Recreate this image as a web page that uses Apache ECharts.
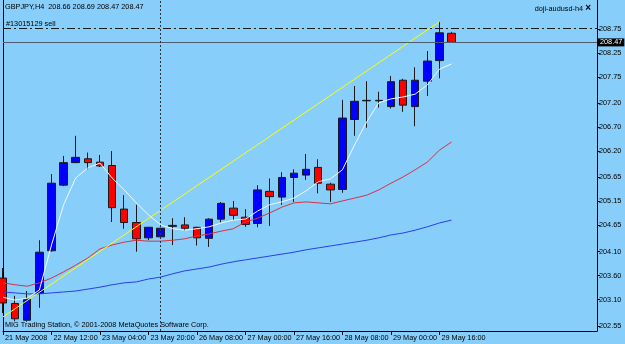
<!DOCTYPE html>
<html>
<head>
<meta charset="utf-8">
<script src="https://cdn.jsdelivr.net/npm/echarts@6/dist/echarts.min.js"></script>
<style>
  html, body { margin: 0; padding: 0; background: #87CEFA; }
  #chart { width: 625px; height: 344px; }
</style>
</head>
<body>
<div id="chart"></div>
<script>
// ---- Data ----
const categories = [
  "21 May 2008", "22 May 00:00", "22 May 04:00", "22 May 08:00", "22 May 12:00", "22 May 16:00",
  "22 May 20:00", "23 May 00:00", "23 May 04:00", "23 May 08:00", "23 May 12:00", "23 May 16:00",
  "23 May 20:00", "25 May 20:00", "26 May 00:00", "26 May 04:00", "26 May 08:00", "26 May 12:00",
  "26 May 16:00", "26 May 20:00", "27 May 00:00", "27 May 04:00", "27 May 08:00", "27 May 12:00",
  "27 May 16:00", "27 May 20:00", "28 May 00:00", "28 May 04:00", "28 May 08:00", "28 May 12:00",
  "28 May 16:00", "28 May 20:00", "29 May 00:00", "29 May 04:00", "29 May 08:00", "29 May 12:00",
  "29 May 16:00", "29 May 20:00",
  // empty future slots (chart shift area)
  "30 May 00:00", "30 May 04:00", "30 May 08:00", "30 May 12:00", "30 May 16:00", "30 May 20:00",
  "2 Jun 00:00", "2 Jun 04:00", "2 Jun 08:00", "2 Jun 12:00", "2 Jun 16:00", "2 Jun 20:00"
];
const lastLabelIndex = 36;
const labelStep = 4;

const openV  = [203.55, 203.02, 202.67, 203.23, 204.12, 205.49, 205.96, 206.04, 205.97, 205.90, 204.99, 204.71, 204.39, 204.41, 204.63, 204.66, 204.61, 204.38, 204.78, 205.01, 204.82, 204.69, 205.36, 205.24, 205.65, 205.70, 205.86, 205.51, 205.40, 206.86, 207.25, 207.25, 207.13, 207.68, 207.13, 207.66, 208.09, 208.66];
const closeV = [203.03, 202.70, 203.11, 204.09, 205.53, 205.96, 206.07, 205.96, 205.89, 205.02, 204.71, 204.37, 204.61, 204.59, 204.65, 204.59, 204.39, 204.78, 205.11, 204.86, 204.67, 205.39, 205.25, 205.65, 205.74, 205.82, 205.53, 205.39, 206.89, 207.24, 207.26, 207.26, 207.65, 207.16, 207.68, 208.08, 208.67, 208.47];
const lowV   = [202.82, 202.65, 202.64, 202.93, 204.10, 205.47, 205.96, 205.82, 205.87, 204.72, 204.58, 204.10, 204.34, 204.40, 204.24, 204.54, 204.23, 204.20, 204.71, 204.76, 204.62, 204.61, 204.64, 205.08, 205.14, 205.60, 205.32, 205.14, 205.33, 206.52, 206.69, 207.11, 207.09, 207.02, 206.72, 207.35, 207.72, 208.47];
const highV  = [203.76, 203.18, 203.28, 204.34, 205.72, 206.10, 206.52, 206.17, 206.12, 206.20, 205.28, 205.08, 204.62, 204.60, 204.80, 204.82, 204.62, 204.80, 205.14, 205.16, 204.99, 205.49, 205.63, 205.76, 205.82, 206.14, 206.03, 205.54, 207.27, 207.56, 207.66, 207.44, 207.77, 207.71, 207.95, 208.29, 208.90, 208.69];

const maFast = [203.15, 203.09, 203.13, 203.30, 204.24, 205.08, 205.64, 205.85, 205.95, 205.64, 205.39, 205.12, 204.87, 204.66, 204.58, 204.55, 204.58, 204.62, 204.70, 204.76, 204.78, 204.95, 205.08, 205.14, 205.22, 205.37, 205.56, 205.62, 205.81, 206.33, 206.81, 207.21, 207.29, 207.33, 207.39, 207.58, 207.91, 208.02];
const maMid  = [203.45, 203.41, 203.38, 203.45, 203.55, 203.68, 203.82, 203.97, 204.16, 204.24, 204.30, 204.34, 204.32, 204.32, 204.34, 204.37, 204.43, 204.47, 204.53, 204.58, 204.72, 204.80, 204.91, 205.03, 205.12, 205.14, 205.12, 205.10, 205.16, 205.22, 205.28, 205.39, 205.53, 205.66, 205.81, 205.97, 206.22, 206.39];
const maSlow = [203.26, 203.24, 203.22, 203.22, 203.24, 203.26, 203.28, 203.32, 203.36, 203.41, 203.45, 203.47, 203.53, 203.57, 203.64, 203.70, 203.74, 203.78, 203.84, 203.89, 203.93, 203.97, 204.01, 204.05, 204.09, 204.14, 204.18, 204.22, 204.26, 204.30, 204.34, 204.39, 204.45, 204.49, 204.55, 204.62, 204.70, 204.76];

const trendIdx = [0, 36];
const trendVal = [202.74, 208.90];

const yTickLabels = [208.75, 208.25, 207.75, 207.20, 206.70, 206.20, 205.65, 205.15, 204.65, 204.10, 203.60, 203.10, 202.55];
const yMin = 202.445, yMax = 209.355;

const bidPrice = 208.47;
const orderPrice = 208.76;
const orderText = "#13015129 sell";
const separatorIndex = 13;

const headerText = "GBPJPY,H4  208.66 208.69 208.47 208.47";
const indicatorText = "doji-audusd-h4";
const footerText = "MIG Trading Station, \u00A9 2001-2008 MetaQuotes Software Corp.";

// ---- Build ----
const FONT = "'Liberation Sans', Arial, sans-serif";
const FS = 7.3;
const candleData = openV.map((o, i) => [o, closeV[i], lowV[i], highV[i]]);
const trendData = trendIdx.map((k, j) => [categories[k], trendVal[j]]);
const showLabel = (i) => i % labelStep === 0 && i <= lastLabelIndex;

const chart = echarts.init(document.getElementById('chart'), null, { renderer: 'canvas' });
chart.setOption({
  animation: false,
  backgroundColor: '#87CEFA',
  grid: { left: 3, right: 28, top: 0, bottom: 13, containLabel: false },
  xAxis: {
    type: 'category',
    data: categories,
    boundaryGap: false,
    axisLine: { show: true, lineStyle: { color: '#000', width: 1 } },
    axisTick: { show: true, length: 4, interval: (i) => showLabel(i), lineStyle: { color: '#000' } },
    axisLabel: {
      show: true, interval: (i) => showLabel(i), align: 'left', margin: 3,
      fontFamily: FONT, fontSize: FS, color: '#000', padding: [0, 0, 0, 2]
    },
    splitLine: { show: false }
  },
  yAxis: [
    {
      type: 'value', position: 'right', min: yMin, max: yMax, scale: true,
      axisLine: { show: true, lineStyle: { color: '#000', width: 1 } },
      axisTick: { show: true, length: 3, customValues: yTickLabels, lineStyle: { color: '#000' } },
      axisLabel: {
        show: true, customValues: yTickLabels, margin: 2,
        formatter: (v) => v.toFixed(2),
        fontFamily: FONT, fontSize: FS, color: '#000'
      },
      splitLine: { show: false }
    },
    {
      type: 'value', position: 'left', min: yMin, max: yMax, scale: true,
      axisLine: { show: true, lineStyle: { color: '#000', width: 1 } },
      axisTick: { show: false }, axisLabel: { show: false }, splitLine: { show: false }
    }
  ],
  series: [
    {
      type: 'candlestick',
      data: candleData,
      yAxisIndex: 0,
      barWidth: 8,
      clip: true,
      z: 2,
      itemStyle: {
        color: '#0000FF', color0: '#FF0000',
        borderColor: '#1a1a1a', borderColor0: '#1a1a1a', borderWidth: 1
      },
      markLine: {
        silent: true, symbol: ['none', 'none'], animation: false,
        data: [
          {
            yAxis: bidPrice,
            lineStyle: { color: '#4e5e70', type: 'solid', width: 1 },
            label: {
              show: true, position: 'end', distance: 1, formatter: bidPrice.toFixed(2),
              backgroundColor: '#000', color: '#fff', fontFamily: FONT, fontSize: FS,
              padding: [1, 2, 0, 2]
            }
          },
          {
            yAxis: orderPrice,
            lineStyle: { color: '#1a1a1a', type: [8, 3, 2, 3], width: 1 },
            label: {
              show: true, position: 'insideStartTop', distance: [3, 1], formatter: orderText,
              color: '#000', fontFamily: FONT, fontSize: FS
            }
          },
          {
            xAxis: categories[separatorIndex],
            lineStyle: { color: '#2a3440', type: [2, 2], width: 1 },
            label: { show: false }
          }
        ]
      }
    },
    {
      type: 'line', data: maSlow, showSymbol: false, symbol: 'none', smooth: false, z: 3,
      lineStyle: { color: '#2b3df0', width: 1 }
    },
    {
      type: 'line', data: maMid, showSymbol: false, symbol: 'none', smooth: false, z: 3,
      lineStyle: { color: '#dc3040', width: 1 }
    },
    {
      type: 'line', data: maFast, showSymbol: false, symbol: 'none', smooth: false, z: 3,
      lineStyle: { color: '#f4f8ff', width: 1 }
    },
    {
      type: 'line', data: trendData, showSymbol: false, symbol: 'none', z: 3,
      lineStyle: { color: '#ffff00', width: 1 }
    }
  ],
  graphic: [
    { type: 'text', left: 5, top: 3, style: { text: headerText, fontFamily: FONT, fontSize: FS, fill: '#000' } },
    { type: 'text', right: 42, top: 5, style: { text: indicatorText, fontFamily: FONT, fontSize: FS, fill: '#000' } },
    { type: 'text', right: 34, top: 3, style: { text: '\u00D7', fontFamily: FONT, fontSize: 10, fontWeight: 'bold', fill: '#000' } },
    { type: 'text', left: 5, top: 321, style: { text: footerText, fontFamily: FONT, fontSize: FS, fill: '#000' } }
  ]
});
</script>
</body>
</html>
